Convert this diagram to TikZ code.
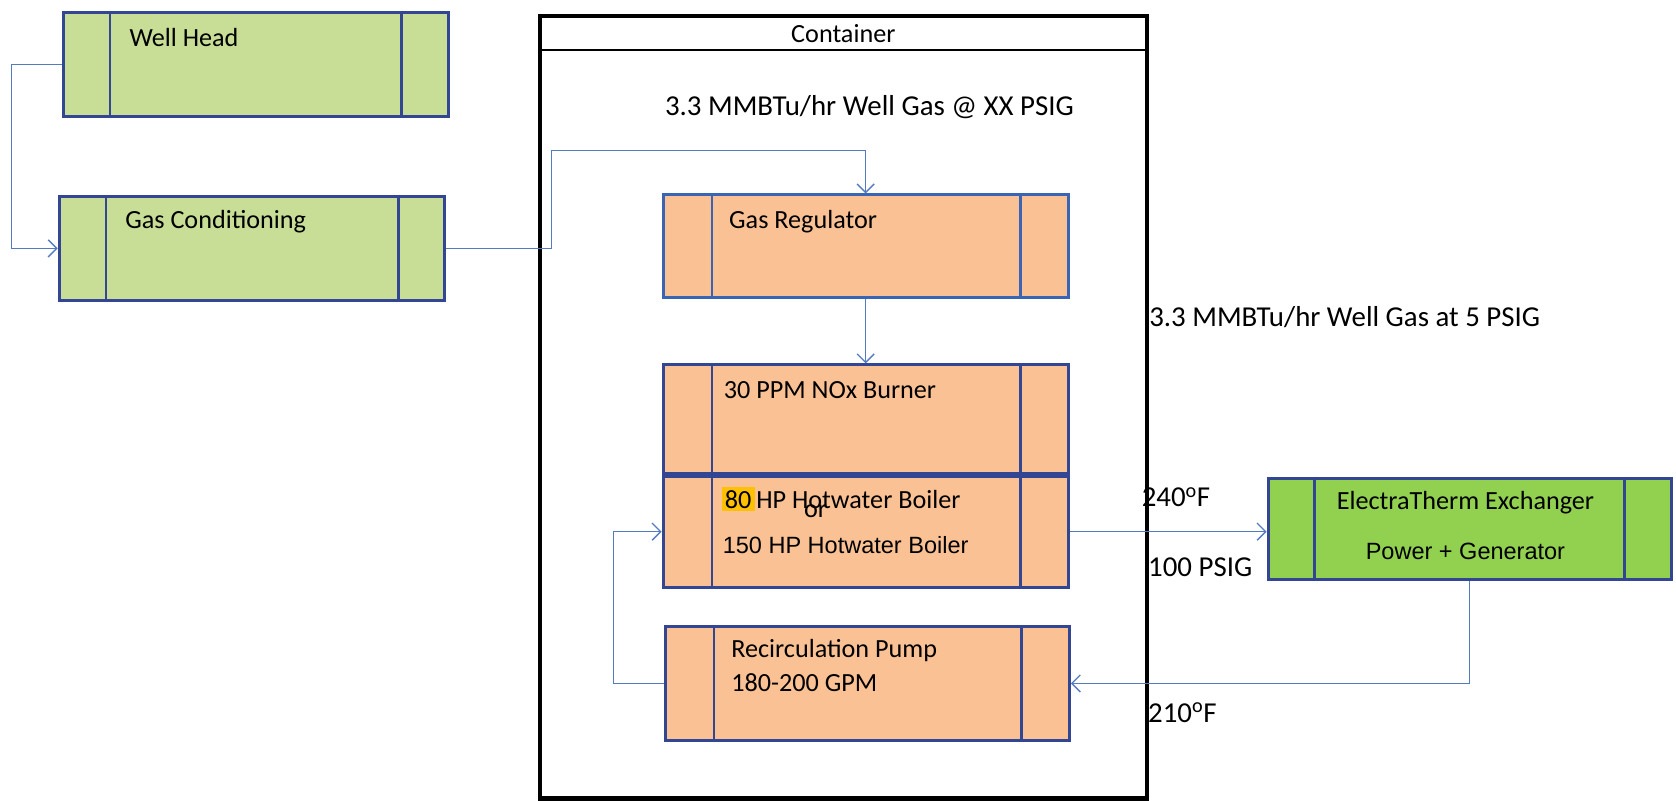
\documentclass[tikz,border=0pt]{standalone}
\usepackage{fontspec}
\setmainfont{Carlito}
\newfontfamily\arialfont{Liberation Sans}
\usetikzlibrary{arrows.meta,calc}

\definecolor{unitgreen}{RGB}{200,222,150}
\definecolor{etgreen}{RGB}{146,208,80}
\definecolor{unitorange}{RGB}{250,194,148}
\definecolor{navyedge}{RGB}{50,70,148}
\definecolor{blueedge}{RGB}{58,100,180}
\definecolor{pipe}{RGB}{84,122,192}
\definecolor{hilite}{RGB}{255,192,0}

\tikzset{
  unitbox/.style={draw=#1, line width=2.8pt, anchor=north west, inner sep=0pt},
  greenunit/.style={unitbox=navyedge, fill=unitgreen},
  etunit/.style={unitbox=navyedge, fill=etgreen},
  orangeunit/.style={unitbox=blueedge, fill=unitorange},
  divider/.style={line width=2.4pt},
  flow/.style={draw=pipe, line width=1.3pt, -{Straight Barb[length=8pt,width=16pt,line width=1.3pt]}},
  boxtext/.style={anchor=west, inner sep=0pt, font=\fontsize{24.5}{29}\selectfont},
  arialtext/.style={inner sep=0pt, font=\arialfont\fontsize{22}{26}\selectfont},
  note/.style={anchor=west, inner sep=0pt, font=\fontsize{27}{32}\selectfont},
}

\begin{document}
\begin{tikzpicture}[x=1pt,y=-1pt]
\useasboundingbox (0,0) rectangle (1568,749);

% container outline with its title strip
\draw[line width=4pt] (505,15) rectangle (1073,747);
\draw[line width=1.6pt] (507,47) -- (1071,47);
\node[inner sep=0pt, font=\fontsize{24.5}{29}\selectfont] (ctitle) at (789,31) {Container};

% process units
\node[greenunit, minimum width=360pt, minimum height=98pt] (wh) at (58,10) {};
\node[greenunit, minimum width=360pt, minimum height=98pt] (gc) at (54,182) {};
\node[orangeunit, minimum width=379pt, minimum height=96pt] (gr) at (619,181) {};
\node[orangeunit, draw=navyedge, minimum width=379pt, minimum height=102pt] (bn) at (619,340) {};
\node[orangeunit, draw=navyedge, minimum width=379pt, minimum height=104pt] (bl) at (619,444) {};
\node[orangeunit, draw=navyedge, minimum width=378pt, minimum height=106pt] (pp) at (621,585) {};
\node[etunit, minimum width=377pt, minimum height=95pt] (et) at (1185,446) {};

% side panels of each unit
\foreach \u/\l/\r/\c in {wh/45/45/navyedge, gc/45/44/navyedge, gr/47/46/blueedge,
                         bn/47/46/navyedge, bl/47/46/navyedge, pp/47/46/navyedge, et/45/45/navyedge}{
  \draw[divider, draw=\c] ([xshift=\l pt]\u.north west) -- ([xshift=\l pt]\u.south west);
  \draw[divider, draw=\c] ([xshift=-\r pt]\u.north east) -- ([xshift=-\r pt]\u.south east);
}

% unit labels
\node[boxtext] (twh) at (121,35) {Well Head};
\node[boxtext] (tgc) at (117,207) {Gas Conditioning};
\node[boxtext] (tgr) at (682,207) {Gas Regulator};
\node[boxtext] (tbn) at (677,365) {30 PPM NOx Burner};
\node[boxtext, xshift=-3pt] (tbl) at (678,467) {{\setlength{\fboxsep}{3pt}\colorbox{hilite}{80}}\hspace{-4pt} HP Hotwater Boiler};
\node[boxtext] (tor) at (752,478) {or};
\node[arialtext, anchor=west] (tbl2) at (676,510) {150 HP Hotwater Boiler};
\node[boxtext] (tpp1) at (684,609) {Recirculation Pump};
\node[boxtext] (tpp2) at (684,639) {180-200 GPM};
\node[inner sep=0pt, font=\fontsize{24.5}{29}\selectfont] (tet1) at (1371,470) {ElectraTherm Exchanger};
\node[arialtext] (tet2) at (1371,516) {Power + Generator};

% stream annotations
\node[note] (ngas) at (622,100) {3.3 MMBTu/hr Well Gas @ XX PSIG};
\node[note] (nlow) at (1075,297) {3.3 MMBTu/hr Well Gas at 5 PSIG};
\node[note] (nhot) at (1068,465) {240\textsuperscript{o}F};
\node[note] (npsi) at (1074,531) {100 PSIG};
\node[note] (ncold) at (1074,667) {210\textsuperscript{o}F};

% piping
\coordinate (tap) at (516,141);
\draw[flow] (wh.west) -- ++(-47,0) |- (gc.west);
\draw[flow] (gc.east) -| (tap) -| (gr.north);
\draw[flow] (gr.south) -- (bn.north);
\draw[flow] (bl.east) -- (bl.east -| et.west);
\draw[flow] (et.south) |- (pp.east);
\draw[flow] (pp.west) -- ++(-47,0) |- (bl.west);
\end{tikzpicture}
\end{document}
